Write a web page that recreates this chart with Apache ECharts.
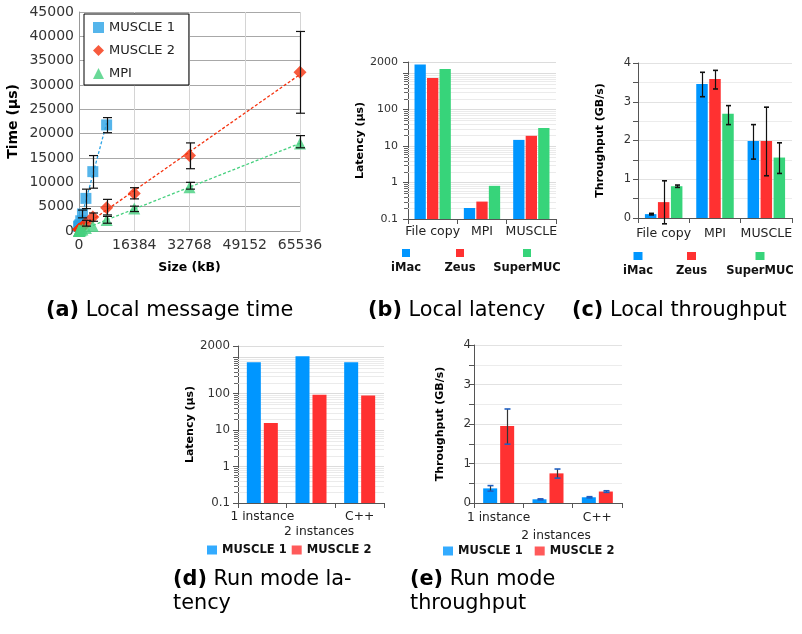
<!DOCTYPE html>
<html><head><meta charset="utf-8">
<script src="https://cdn.jsdelivr.net/npm/echarts@6/dist/echarts.min.js"></script>
<style>html,body{margin:0;padding:0;background:#fff}#c{width:802px;height:634px}</style>
</head><body><div id="c"></div>
<script>
// ---------- (a) Local message time ----------
const sizes       = [1, 4, 16, 64, 256, 512, 1024, 2048, 4096, 8192, 16384, 32768, 65536];
const muscle1Time = [900, 950, 1000, 1050, 1300, 2100, 3500, 6700, 12200, 21800, null, null, null];
const muscle1Lo   = [null, null, null, null, null, null, 2700, 4600, 8800, 20200, null, null, null];
const muscle1Hi   = [null, null, null, null, null, null, 4300, 8600, 15500, 23300, null, null, null];
const muscle2Time = [300, 300, 320, 350, 400, 500, 850, 1600, 2900, 4800, 7700, 15500, 32600];
const muscle2Lo   = [null, null, null, null, null, null, null, 1000, 2000, 3300, 6600, 12800, 24200];
const muscle2Hi   = [null, null, null, null, null, null, null, 2200, 3700, 6500, 8900, 18100, 41000];
const mpiTime     = [30, 30, 40, 50, 80, 150, 300, 600, 1050, 2250, 4600, 9000, 18000];
const mpiLo       = [null, null, null, null, null, null, null, null, null, 1600, 4000, 8600, 17100];
const mpiHi       = [null, null, null, null, null, null, null, null, null, 3000, 5100, 10000, 19600];
const sizeTicks   = [0, 16384, 32768, 49152, 65536];

// ---------- (b) Local latency / (c) Local throughput ----------
const localCats   = ['File copy', 'MPI', 'MUSCLE'];
const machines    = ['iMac', 'Zeus', 'SuperMUC'];
const imacLat     = [1720, 0.2, 14.7];
const zeusLat     = [730, 0.3, 19];
const superLat    = [1280, 0.81, 31];
const imacThr     = [0.1, 3.46, 1.99];
const imacThrLo   = [0.08, 3.13, 1.52];
const imacThrHi   = [0.12, 3.76, 2.41];
const zeusThr     = [0.41, 3.59, 1.99];
const zeusThrLo   = [-0.15, 3.33, 1.09];
const zeusThrHi   = [0.96, 3.81, 2.86];
const superThr    = [0.82, 2.69, 1.56];
const superThrLo  = [0.79, 2.41, 1.15];
const superThrHi  = [0.85, 2.9, 1.94];

// ---------- (d) Run mode latency / (e) Run mode throughput ----------
const runCats     = ['1 instance', '2 instances', 'C++'];
const m1Lat       = [715, 1045, 715];
const m2Lat       = [15.5, 93, 88];
const m1Thr       = [0.37, 0.094, 0.145];
const m1ThrLo     = [0.3, 0.08, 0.13];
const m1ThrHi     = [0.44, 0.105, 0.16];
const m2Thr       = [1.95, 0.75, 0.29];
const m2ThrLo     = [1.49, 0.63, 0.27];
const m2ThrHi     = [2.38, 0.86, 0.31];

const logLabels   = [0.1, 1, 10, 100, 2000];
const logMinor = [];
for (let d = -1; d <= 3; d++) for (let k = 2; k <= 9; k++) { const v = k * Math.pow(10, d); if (v < 2000) logMinor.push(v); }

const FONT = 'DejaVu Sans';
const BLUE = '#0096FF', RED = '#FF3131', GREEN = '#37D47A';
const A_BLUE = '#2BA3E6', A_RED = '#F5310D', A_GREEN = '#45D07E';

function pairs(xs, ys) { const out = []; xs.forEach((x, i) => { if (ys[i] != null) out.push([x, ys[i]]); }); return out; }
function triples(xs, lo, hi) { const out = []; xs.forEach((x, i) => { if (lo[i] != null) out.push([x, lo[i], hi[i]]); }); return out; }
function fit(xs, ys) {
  const p = pairs(xs, ys); const n = p.length;
  let sx = 0, sy = 0, sxx = 0, sxy = 0;
  p.forEach(([x, y]) => { sx += x; sy += y; sxx += x * x; sxy += x * y; });
  const a = (n * sxy - sx * sy) / (n * sxx - sx * sx); const b = (sy - a * sx) / n;
  const xmax = p[p.length - 1][0];
  return [[0, b], [xmax, a * xmax + b]];
}

function scatterErr(lo, hi, capW) {
  return {
    type: 'custom', xAxisIndex: 0, yAxisIndex: 0, z: 5, silent: true,
    data: triples(sizes, lo, hi), encode: { x: 0, y: [1, 2] },
    renderItem(params, api) {
      const p1 = api.coord([api.value(0), api.value(1)]);
      const p2 = api.coord([api.value(0), api.value(2)]);
      const x = Math.round(p1[0]) + 0.5;
      const st = { stroke: '#111', lineWidth: 1.2 };
      return { type: 'group', children: [
        { type: 'line', shape: { x1: x, y1: p1[1], x2: x, y2: p2[1] }, style: st },
        { type: 'line', shape: { x1: x - capW / 2, y1: p1[1], x2: x + capW / 2, y2: p1[1] }, style: st },
        { type: 'line', shape: { x1: x - capW / 2, y1: p2[1], x2: x + capW / 2, y2: p2[1] }, style: st }
      ] };
    }
  };
}

function logBars(g, name, vals, color, sIdx, n, barW, gap) {
  return {
    type: 'custom', name, xAxisIndex: g, yAxisIndex: g, z: 3,
    itemStyle: { color },
    data: vals.map((v, i) => [i, v]), encode: { x: 0, y: 1 },
    renderItem(params, api) {
      const top = api.coord([api.value(0), api.value(1)]);
      const cs = params.coordSys;
      const x = top[0] + (sIdx - (n - 1) / 2) * (barW + gap) - barW / 2;
      const bottom = cs.y + cs.height;
      return { type: 'rect', shape: { x, y: top[1], width: barW, height: bottom - top[1] }, style: { fill: color } };
    }
  };
}

function linBars(g, name, vals, color, barW, gap) {
  return { type: 'bar', name, xAxisIndex: g, yAxisIndex: g, data: vals, barWidth: barW,
           barGap: (gap / barW * 100) + '%', itemStyle: { color }, z: 3 };
}

function barErr(g, lo, hi, sIdx, n, barW, gap, lineColor, capColor, capW) {
  return {
    type: 'custom', xAxisIndex: g, yAxisIndex: g, z: 6, silent: true,
    data: lo.map((l, i) => [i, l, hi[i]]), encode: { x: 0, y: [1, 2] },
    renderItem(params, api) {
      const i = api.value(0);
      const p1 = api.coord([i, api.value(1)]);
      const p2 = api.coord([i, api.value(2)]);
      const x = Math.round(p1[0] + (sIdx - (n - 1) / 2) * (barW + gap)) + 0.5;
      return { type: 'group', children: [
        { type: 'line', shape: { x1: x, y1: p1[1], x2: x, y2: p2[1] }, style: { stroke: lineColor, lineWidth: 1.2 } },
        { type: 'line', shape: { x1: x - capW / 2, y1: p1[1], x2: x + capW / 2, y2: p1[1] }, style: { stroke: capColor, lineWidth: 1.6 } },
        { type: 'line', shape: { x1: x - capW / 2, y1: p2[1], x2: x + capW / 2, y2: p2[1] }, style: { stroke: capColor, lineWidth: 1.6 } }
      ] };
    }
  };
}

function logMinorGrid(g) {
  return {
    type: 'custom', xAxisIndex: g, yAxisIndex: g, z: 1, silent: true,
    data: logMinor.map(v => [0, v]), encode: { x: 0, y: 1 },
    renderItem(params, api) {
      const y = Math.round(api.coord([0, api.value(1)])[1]) + 0.5;
      const cs = params.coordSys;
      return { type: 'group', children: [
        { type: 'line', shape: { x1: cs.x, y1: y, x2: cs.x + cs.width, y2: y }, style: { stroke: '#ebebeb', lineWidth: 1 } },
        { type: 'line', shape: { x1: cs.x - 4, y1: y, x2: cs.x, y2: y }, style: { stroke: '#666', lineWidth: 1 } }
      ] };
    }
  };
}

function fmtLog(v) {
  const hit = logLabels.find(l => Math.abs(Math.log10(v) - Math.log10(l)) < 0.005);
  if (hit == null) return '';
  return hit < 1 ? hit.toFixed(1) : String(hit);
}

const nameStyle = (size) => ({ fontFamily: FONT, fontSize: size, fontWeight: 'bold', color: '#000' });
const tickLab = (size, margin) => ({ fontFamily: FONT, fontSize: size, color: '#333', margin, formatter: (v) => String(v) });

function catAxis(g, cats, labelSize, margin, extra) {
  const ax = {
    type: 'category', gridIndex: g, data: cats,
    axisLine: { show: true, lineStyle: { color: '#555' } },
    axisTick: { show: true, length: 5, alignWithLabel: false, interval: 0, lineStyle: { color: '#555' } },
    axisLabel: { fontFamily: FONT, fontSize: labelSize, color: '#222', margin, interval: 0 },
    splitLine: { show: false }
  };
  if (extra) Object.assign(ax.axisLabel, extra);
  return ax;
}

function logAxis(g, name, nameGap, labelSize, margin) {
  return {
    type: 'log', gridIndex: g, logBase: 10, min: 0.1, max: 2000,
    axisLine: { show: true, lineStyle: { color: '#555' } },
    axisTick: { show: true, length: 5, lineStyle: { color: '#555' } },
    axisLabel: Object.assign(tickLab(labelSize, margin), { showMaxLabel: true, showMinLabel: true, formatter: fmtLog }),
    splitLine: { show: true, lineStyle: { color: '#dcdcdc' } },
    name, nameLocation: 'middle', nameGap, nameTextStyle: nameStyle(11)
  };
}

function thrAxis(g, nameGap, labelSize, margin) {
  return {
    type: 'value', gridIndex: g, min: 0, max: 4, interval: 1,
    axisLine: { show: true, lineStyle: { color: '#555' } },
    axisTick: { show: true, length: 5, lineStyle: { color: '#555' } },
    minorTick: { show: true, splitNumber: 2, length: 5, lineStyle: { color: '#555' } },
    minorSplitLine: { show: true, lineStyle: { color: '#ececec' } },
    axisLabel: tickLab(labelSize, margin),
    splitLine: { show: true, lineStyle: { color: '#e2e2e2' } },
    name: 'Throughput (GB/s)', nameLocation: 'middle', nameGap, nameTextStyle: nameStyle(11)
  };
}

const CAP = 20.8;
const capRich = {
  b: { fontFamily: FONT, fontSize: CAP, fontWeight: 'bold', color: '#000', lineHeight: 23.5 },
  n: { fontFamily: FONT, fontSize: CAP, fontWeight: 'normal', color: '#000', lineHeight: 23.5 }
};
function caption(left, top, text) {
  return { left, top, padding: 0, text, textStyle: { fontFamily: FONT, fontSize: CAP, fontWeight: 'normal', color: '#000', lineHeight: 23.5, rich: capRich } };
}

function stackedLegend(left, top, widths, gap, iconW, iconH) {
  const rich = {};
  const cols = [BLUE, RED, GREEN];
  machines.forEach((m, i) => {
    rich['i' + i] = { width: iconW, height: iconH, backgroundColor: cols[i], align: 'center', lineHeight: 16 };
    rich['t' + i] = { width: widths[i], align: 'center', fontFamily: FONT, fontSize: 11.5, fontWeight: 'bold', color: '#111', lineHeight: 14 };
  });
  return {
    left, top, padding: 0, itemGap: gap, icon: 'none', itemWidth: 0, itemHeight: 0,
    data: machines.slice(),
    formatter: (name) => { const i = machines.indexOf(name); return '{i' + i + '|}\n{t' + i + '|' + name + '}'; },
    textStyle: { rich }
  };
}

const runLabelFmt = (v, i) => (i === 1 ? '\n{s|' + v + '}' : v);

const option = {
  animation: false,
  backgroundColor: '#fff',
  title: [
    caption(46, 299, '{b|(a)}{n| Local message time}'),
    caption(368, 299, '{b|(b)}{n| Local latency}'),
    caption(572, 299, '{b|(c)}{n| Local throughput}'),
    caption(173, 568, '{b|(d)}{n| Run mode la-}\n{n|tency}'),
    caption(410, 568, '{b|(e)}{n| Run mode}\n{n|throughput}')
  ],
  legend: [
    { left: 84, top: 14, orient: 'vertical', padding: [7, 14, 5, 9], itemGap: 10, itemWidth: 11, itemHeight: 11,
      borderColor: '#000', borderWidth: 1, backgroundColor: '#fff',
      data: ['MUSCLE 1', 'MUSCLE 2', 'MPI'],
      textStyle: { fontFamily: FONT, fontSize: 13, color: '#222' } },
    stackedLegend(383, 247, [36, 36, 62], 13, 8, 8),
    stackedLegend(615, 250, [36, 36, 66], 12.5, 9, 8),
    { left: 207, top: 544, padding: 0, itemGap: 5, icon: 'rect', itemWidth: 10, itemHeight: 9,
      data: [{ name: 'MUSCLE 1', itemStyle: { color: BLUE } }, { name: 'MUSCLE 2', itemStyle: { color: RED } }],
      textStyle: { fontFamily: FONT, fontSize: 11.5, fontWeight: 'bold', color: '#111' } },
    { left: 443, top: 545, padding: 0, itemGap: 12, icon: 'rect', itemWidth: 10, itemHeight: 9,
      data: [{ name: 'MUSCLE 1', itemStyle: { color: BLUE } }, { name: 'MUSCLE 2', itemStyle: { color: RED } }],
      textStyle: { fontFamily: FONT, fontSize: 11.5, fontWeight: 'bold', color: '#111' } }
  ],
  grid: [
    { left: 79, top: 12, width: 221, height: 219 },
    { left: 408, top: 62, width: 148, height: 157 },
    { left: 638, top: 63, width: 154, height: 155 },
    { left: 238, top: 346, width: 146, height: 157 },
    { left: 474, top: 345, width: 148, height: 158 }
  ],
  xAxis: [
    { type: 'value', gridIndex: 0, min: sizeTicks[0], max: sizeTicks[sizeTicks.length - 1], interval: sizeTicks[1] - sizeTicks[0],
      axisLine: { show: true, lineStyle: { color: '#999' } }, axisTick: { show: false },
      axisLabel: tickLab(14, 7), splitLine: { show: true, lineStyle: { color: '#d4d4d4' } },
      name: 'Size (kB)', nameLocation: 'middle', nameGap: 30, nameTextStyle: nameStyle(12.5) },
    catAxis(1, localCats, 12.5, 6),
    catAxis(2, localCats, 12.5, 9),
    catAxis(3, runCats, 12.3, 7, { lineHeight: 14.5, formatter: runLabelFmt,
      rich: { s: { fontFamily: FONT, fontSize: 12.3, color: '#222', lineHeight: 14.5, padding: [0, 0, 0, 16] } } }),
    catAxis(4, runCats, 12.2, 6, { lineHeight: 18, formatter: runLabelFmt,
      rich: { s: { fontFamily: FONT, fontSize: 12.2, color: '#222', lineHeight: 18, padding: [0, 0, 0, 16] } } })
  ],
  yAxis: [
    { type: 'value', gridIndex: 0, min: 0, max: 45000, interval: 5000,
      axisLine: { show: true, lineStyle: { color: '#999' } }, axisTick: { show: false },
      axisLabel: tickLab(14, 5), splitLine: { show: true, lineStyle: { color: '#a8a8a8' } },
      name: 'Time (µs)', nameLocation: 'middle', nameGap: 59, nameTextStyle: nameStyle(14) },
    logAxis(1, 'Latency (µs)', 41, 11, 10),
    thrAxis(2, 32, 11.5, 7),
    logAxis(3, 'Latency (µs)', 40, 11.8, 8),
    thrAxis(4, 28, 11.8, 3)
  ],
  series: [
    // (a)
    { type: 'scatter', name: 'MUSCLE 1', xAxisIndex: 0, yAxisIndex: 0, symbol: 'rect', symbolSize: 11, itemStyle: { color: A_BLUE }, data: pairs(sizes, muscle1Time), z: 4 },
    { type: 'scatter', name: 'MUSCLE 2', xAxisIndex: 0, yAxisIndex: 0, symbol: 'diamond', symbolSize: 13, itemStyle: { color: A_RED }, data: pairs(sizes, muscle2Time), z: 4 },
    { type: 'scatter', name: 'MPI', xAxisIndex: 0, yAxisIndex: 0, symbol: 'triangle', symbolSize: 12, itemStyle: { color: A_GREEN }, data: pairs(sizes, mpiTime), z: 4 },
    { type: 'line', xAxisIndex: 0, yAxisIndex: 0, symbol: 'none', silent: true, z: 3, data: fit(sizes, muscle1Time), lineStyle: { color: A_BLUE, width: 1.3, type: [3, 2] } },
    { type: 'line', xAxisIndex: 0, yAxisIndex: 0, symbol: 'none', silent: true, z: 3, data: fit(sizes, muscle2Time), lineStyle: { color: A_RED, width: 1.3, type: [3, 2] } },
    { type: 'line', xAxisIndex: 0, yAxisIndex: 0, symbol: 'none', silent: true, z: 3, data: fit(sizes, mpiTime), lineStyle: { color: A_GREEN, width: 1.3, type: [3, 2] } },
    scatterErr(muscle1Lo, muscle1Hi, 9),
    scatterErr(muscle2Lo, muscle2Hi, 9),
    scatterErr(mpiLo, mpiHi, 9),
    // (b)
    logMinorGrid(1),
    logBars(1, 'iMac', imacLat, BLUE, 0, 3, 11.3, 1.2),
    logBars(1, 'Zeus', zeusLat, RED, 1, 3, 11.3, 1.2),
    logBars(1, 'SuperMUC', superLat, GREEN, 2, 3, 11.3, 1.2),
    // (c)
    linBars(2, 'iMac', imacThr, BLUE, 11.5, 1.5),
    linBars(2, 'Zeus', zeusThr, RED, 11.5, 1.5),
    linBars(2, 'SuperMUC', superThr, GREEN, 11.5, 1.5),
    barErr(2, imacThrLo, imacThrHi, 0, 3, 11.5, 1.5, '#111', '#111', 5),
    barErr(2, zeusThrLo, zeusThrHi, 1, 3, 11.5, 1.5, '#111', '#111', 5),
    barErr(2, superThrLo, superThrHi, 2, 3, 11.5, 1.5, '#111', '#111', 5),
    // (d)
    logMinorGrid(3),
    logBars(3, 'MUSCLE 1', m1Lat, BLUE, 0, 2, 14, 3),
    logBars(3, 'MUSCLE 2', m2Lat, RED, 1, 2, 14, 3),
    // (e)
    linBars(4, 'MUSCLE 1', m1Thr, BLUE, 14, 3),
    linBars(4, 'MUSCLE 2', m2Thr, RED, 14, 3),
    barErr(4, m1ThrLo, m1ThrHi, 0, 2, 14, 3, '#333', '#1F5FC0', 6),
    barErr(4, m2ThrLo, m2ThrHi, 1, 2, 14, 3, '#333', '#1F5FC0', 6)
  ]
};

const chart = echarts.init(document.getElementById('c'));
chart.setOption(option);
</script></body></html>
